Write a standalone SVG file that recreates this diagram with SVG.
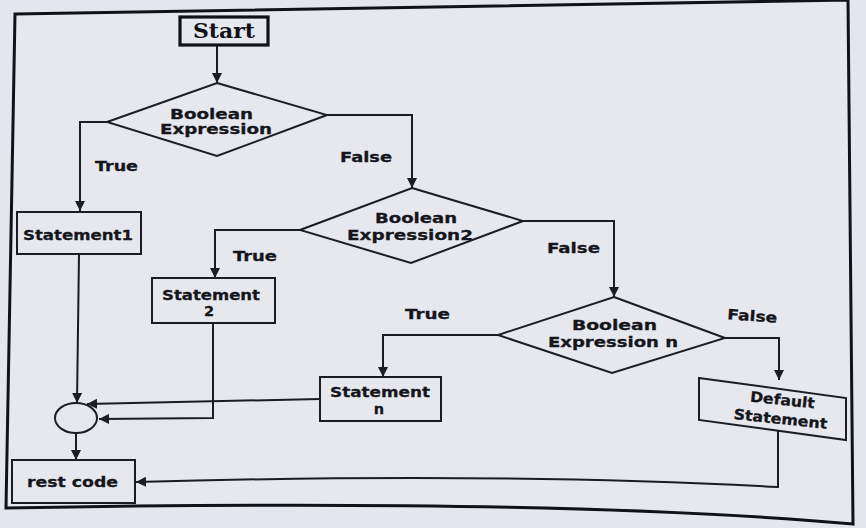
<svg xmlns="http://www.w3.org/2000/svg" width="866" height="528" viewBox="0 0 866 528">
<defs>
<marker id="ah" viewBox="0 0 10 10" refX="10" refY="5" markerWidth="10" markerHeight="10" markerUnits="userSpaceOnUse" orient="auto">
<path d="M0,0 L10,5 L0,10 z" fill="#1c1d24"/>
</marker>
<style>
.shape{fill:#e6e8ee;stroke:#1c1d24;stroke-width:2}
.ln{fill:none;stroke:#1c1d24;stroke-width:2;marker-end:url(#ah)}
.t{font-family:"DejaVu Sans","Liberation Sans",Arial,sans-serif;font-weight:bold;font-size:14.5px;fill:#15161c;stroke:#15161c;stroke-width:0.3;text-anchor:middle}
</style>
</defs>
<rect width="866" height="528" fill="#e3e6ec"/>
<path d="M15,14 L848,0 L853,524 Q560,498 6,508 Z" fill="#e6e8ee" stroke="#111218" stroke-width="3"/>

<g id="connectors">
<path class="ln" d="M217,45 L217,83"/>
<path class="ln" d="M107,122 L80,122 L80,211"/>
<path class="ln" d="M327,115 L412,115 L412,188"/>
<path class="ln" d="M300,230 L215,230 L215,278"/>
<path class="ln" d="M523,221 L614,221 L614,297"/>
<path class="ln" d="M498,335 L383,335 L383,377"/>
<path class="ln" d="M725,338 L779,338 L779,380"/>
<path class="ln" d="M79,254 L77,403"/>
<path class="ln" d="M320,399 L87,404"/>
<path class="ln" d="M213,323 L213,418 L99,419"/>
<path class="ln" d="M76,433 L76,460"/>
<path class="ln" d="M778,431 L778,487 Q500,472 136,482"/>
<text class="t" x="116.5" y="171" textLength="43" lengthAdjust="spacingAndGlyphs">True</text>
<text class="t" x="366" y="162" textLength="52" lengthAdjust="spacingAndGlyphs">False</text>
<text class="t" x="255" y="261" textLength="44" lengthAdjust="spacingAndGlyphs">True</text>
<text class="t" x="573.5" y="253" textLength="53" lengthAdjust="spacingAndGlyphs">False</text>
<text class="t" x="427.5" y="319" textLength="45" lengthAdjust="spacingAndGlyphs">True</text>
<text class="t" x="752" y="321" textLength="50" lengthAdjust="spacingAndGlyphs" transform="rotate(4 752 321)">False</text>
</g>

<g id="start">
<rect x="180" y="17" width="88" height="28" fill="#e6e8ee" stroke="#111218" stroke-width="3.2"/>
<text x="224" y="38" font-family="DejaVu Serif,'Liberation Serif',serif" font-weight="bold" font-size="21" text-anchor="middle" fill="#111218" textLength="62" lengthAdjust="spacingAndGlyphs">Start</text>
</g>

<g id="decision1">
<polygon class="shape" points="217,83 327,115 217,156 107,122"/>
<text class="t" x="211.5" y="119" textLength="83" lengthAdjust="spacingAndGlyphs">Boolean</text>
<text class="t" x="216" y="134" textLength="112" lengthAdjust="spacingAndGlyphs">Expression</text>
</g>

<g id="statement1">
<rect class="shape" x="17" y="212" width="124" height="42"/>
<text class="t" x="78" y="240" textLength="110" lengthAdjust="spacingAndGlyphs">Statement1</text>
</g>

<g id="decision2">
<polygon class="shape" points="412,188 523,221 411,263 300,230"/>
<text class="t" x="416" y="223" textLength="82" lengthAdjust="spacingAndGlyphs">Boolean</text>
<text class="t" x="410" y="240" textLength="126" lengthAdjust="spacingAndGlyphs">Expression2</text>
</g>

<g id="statement2">
<rect class="shape" x="152" y="278" width="123" height="45"/>
<text class="t" x="211" y="300" textLength="98" lengthAdjust="spacingAndGlyphs">Statement</text>
<text class="t" x="209" y="316">2</text>
</g>

<g id="decisionN">
<polygon class="shape" points="614,297 725,338 612,373 498,335"/>
<text class="t" x="614.5" y="330" textLength="85" lengthAdjust="spacingAndGlyphs">Boolean</text>
<text class="t" x="613" y="347" textLength="130" lengthAdjust="spacingAndGlyphs">Expression n</text>
</g>

<g id="statementN">
<rect class="shape" x="320" y="377" width="121" height="44"/>
<text class="t" x="380" y="397" textLength="100" lengthAdjust="spacingAndGlyphs">Statement</text>
<text class="t" x="379" y="414">n</text>
</g>

<g id="default">
<polygon class="shape" points="699,378 846,398 846,440 699,420"/>
<text class="t" x="782" y="405" textLength="65" lengthAdjust="spacingAndGlyphs" transform="rotate(6 782 405)">Default</text>
<text class="t" x="780" y="424" textLength="94" lengthAdjust="spacingAndGlyphs" transform="rotate(6 780 424)">Statement</text>
</g>

<g id="merge">
<ellipse class="shape" cx="76" cy="418" rx="21" ry="15"/>
</g>

<g id="restcode">
<rect class="shape" x="12" y="460" width="123" height="43"/>
<text class="t" x="72.5" y="487" textLength="91" lengthAdjust="spacingAndGlyphs">rest code</text>
</g>
</svg>
